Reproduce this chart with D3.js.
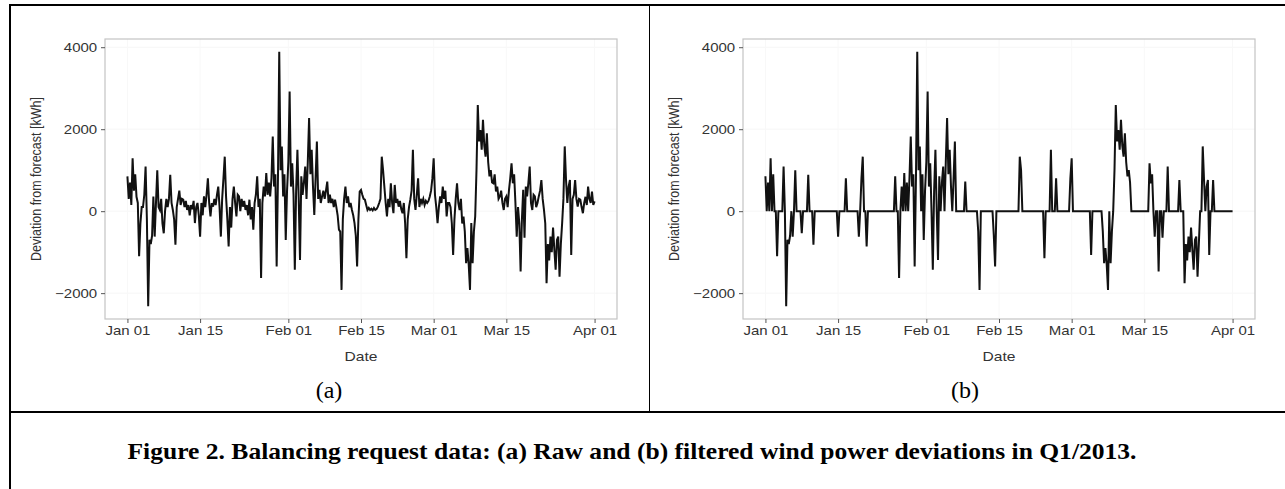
<!DOCTYPE html>
<html>
<head>
<meta charset="utf-8">
<script src="https://cdn.jsdelivr.net/npm/d3@7"></script>
<style>
  html, body { margin: 0; padding: 0; background: #fff; }
  svg { display: block; }
</style>
</head>
<body>
<svg id="fig" width="1285" height="489"></svg>
<script>
// ---------------- DATA ----------------
// Series start and sampling step (6-hourly readings from the picture)
const seriesStart = "2013-01-01";
const stepHours = 6;

// (a) raw deviation from forecast [kWh], 4 readings per day, Jan 01 .. Apr 01
const rawValues = [
  850, 300, 700, 150,     1290, 500, 900, 350,     200, -1100, -300, 100,   100, 400, 1090, -200,
  -2320, -700, -800, -600, 360, -620, 200, 1000,   100, 30, 300, -300,      -540, 0, 300, 100,
  300, 890, 200, 30,      -200, -820, 100, 300,    500, 150, 300, 280,      100, 250, 30, 150,
  -100, 150, 50, 250,     -290, 100, 200, -100,    -620, 200, -100, 360,    100, 400, 800, 200,
  -130, 200, 110, 300,    150, 400, 600, 100,      -620, 300, 800, 1330,    360, -200, -860, 100,
  -400, 300, 600, 200,    -130, 400, 360, 0,       300, 110, 250, 30,       150, -100, 280, -200,
  100, -450, 200, 400,    850, 100, 300, -1630,    200, 600, 360, 930,      400, 700, 360, 800,
  1820, 600, 900, -1350,  800, 3890, 1000, 1580,   360, 900, -700, 500,     1200, 2920, 600, 1170,
  400, -1430, 500, 1500,  300, -1190, 850, 400,    700, 1090, 300, 1200,    2270, 900, 1500, 600,
  -90, 800, 1700, 300,    520, 200, 360, 500,      300, 500, 720, 200,      400, 200, 300, 100,
  280, 100, -100, -450,   -500, -1920, -200, 300,  600, 200, 360, 100,      200, 30, -100, -290,
  -600, -1350, -200, 480, 520, 400, 300, 280,      150, 30, 80, 30,         60, 20, 80, 30,
  50, 110, 200, 300,      1330, 1000, 600, 200,    -130, 300, 100, 680,     200, -50, 640, 200,
  300, 110, 250, 50,      -50, 200, -290, -1150,   -200, 100, 280, 500,     1500, 300, 30, 400,
  800, 100, 300, 200,     300, 150, 250, 200,      250, 360, 500, 800,      1290, 400, 100, -290,
  100, 360, 200, 600,     300, 500, -130, 200,     200, 100, -300, -1070,   -200, 300, 680, 200,
  30, 300, -300, -130,    -500, -1270, -900, -1300, -1920, -290, -1270, -500, -130, 1000, 2590, 1700,
  1980, 1500, 2230, 1600, 1330, 1900, 1200, 850,   1000, 700, 680, 900,     480, 600, 300, 360,
  500, 200, 30, 300,      360, 100, 500, 800,      1170, 680, 900, 200,     -620, 100, -300, -1470,
  -200, 520, -650, 600,   360, 700, 1090, 200,     30, 400, 360, 100,       200, 360, 500, 760,
  300, 30, -300, -1760,   -800, -1200, -620, -1000, -400, -940, -1430, -700, -620, -1600, -800, -290,
  300, 1580, 760, 200,    600, 760, -1070, 300,    400, 760, 300, 110,      300, 280, 100, -50,
  200, 350, 150, 600,     300, 200, 480, 150,
  240
];

// (b) filtered deviation [kWh], same sampling, 0 where filtered out
const filteredValues = [
  850, 0, 700, 0,         1290, 0, 900, 0,         0, -1100, 0, 0,          0, 0, 1090, 0,
  -2320, -700, -800, -600, 0, -620, 0, 1000,       0, 0, 0, 0,              -540, 0, 0, 0,
  0, 890, 0, 0,           0, -820, 0, 0,           0, 0, 0, 0,              0, 0, 0, 0,
  0, 0, 0, 0,             0, 0, 0, 0,              -620, 0, 0, 0,           0, 0, 800, 0,
  0, 0, 0, 0,             0, 0, 0, 0,              -620, 0, 800, 1330,      0, 0, -860, 0,
  0, 0, 0, 0,             0, 0, 0, 0,              0, 0, 0, 0,              0, 0, 0, 0,
  0, 0, 0, 0,             850, 0, 0, -1630,        0, 600, 0, 930,          0, 700, 0, 800,
  1820, 600, 900, -1350,  800, 3890, 1000, 1580,   0, 900, -700, 500,       1200, 2920, 600, 1170,
  0, -1430, 500, 1500,    0, -1190, 850, 0,        700, 1090, 0, 1200,      2270, 900, 1500, 600,
  0, 800, 1700, 0,        0, 0, 0, 0,              0, 0, 720, 0,            0, 0, 0, 0,
  0, 0, 0, 0,             -500, -1920, 0, 0,       0, 0, 0, 0,              0, 0, 0, 0,
  -600, -1350, 0, 0,      0, 0, 0, 0,              0, 0, 0, 0,              0, 0, 0, 0,
  0, 0, 0, 0,             1330, 1000, 0, 0,        0, 0, 0, 0,              0, 0, 0, 0,
  0, 0, 0, 0,             0, 0, 0, -1150,          0, 0, 0, 0,              1500, 0, 0, 0,
  800, 0, 0, 0,           0, 0, 0, 0,              0, 0, 0, 800,            1290, 0, 0, 0,
  0, 0, 0, 0,             0, 0, 0, 0,              0, 0, 0, -1070,          0, 0, 0, 0,
  0, 0, 0, 0,             -500, -1270, -900, -1300, -1920, 0, -1270, -500,  0, 1000, 2590, 1700,
  1980, 1500, 2230, 1600, 1330, 1900, 1200, 850,   1000, 700, 0, 0,         0, 0, 0, 0,
  0, 0, 0, 0,             0, 0, 0, 0,              1170, 680, 900, 0,       -620, 0, 0, -1470,
  0, 0, -650, 0,          0, 0, 1090, 0,           0, 0, 0, 0,              0, 0, 0, 760,
  0, 0, 0, -1760,         -800, -1200, -620, -1000, -400, -940, -1430, -700, -620, -1600, -800, 0,
  0, 1580, 760, 0,        600, 760, -1070, 0,      0, 760, 0, 0,            0, 0, 0, 0,
  0, 0, 0, 0,             0, 0, 0, 0,
  0
];

const xTickLabels = ["Jan 01", "Jan 15", "Feb 01", "Feb 15", "Mar 01", "Mar 15", "Apr 01"];
const xTickDates = ["2013-01-01", "2013-01-15", "2013-02-01", "2013-02-15", "2013-03-01", "2013-03-15", "2013-04-01"];
const yTicks = [-2000, 0, 2000, 4000];
const panelLabels = ["(a)", "(b)"];
const xTitle = "Date";
const yTitle = "Deviation from forecast [kWh]";
const caption = "Figure 2.  Balancing request data: (a) Raw and (b) filtered wind power deviations in Q1/2013.";

// ---------------- DRAWING ----------------
const svg = d3.select("#fig");
svg.append("rect").attr("width", 1285).attr("height", 489).attr("fill", "#fff");

const parse = d3.utcParse("%Y-%m-%d");
const t0 = parse(seriesStart);
const toSeries = vals => vals.map((v, i) => ({ date: new Date(+t0 + i * stepHours * 3600e3), value: v }));
const rawSeries = toSeries(rawValues);
const filtSeries = toSeries(filteredValues);

const allDates = rawSeries.map(d => d.date);
const dateExt = d3.extent(allDates);
const valExt = d3.extent(rawValues);
const xPad = (dateExt[1] - dateExt[0]) * 0.048;
const yPad = (valExt[1] - valExt[0]) * 0.05;

const SX = 1.2; // horizontal stretch of the chart text
const SANS = "'Liberation Sans', Arial, sans-serif";
const SERIF = "'Liberation Serif', 'Times New Roman', serif";

function panel(offsetX, series, label) {
  const left = 105 + offsetX, right = 617 + offsetX, top = 39, bottom = 319;
  const x = d3.scaleUtc()
    .domain([new Date(+dateExt[0] - xPad), new Date(+dateExt[1] + xPad)])
    .range([left, right]);
  const y = d3.scaleLinear()
    .domain([valExt[0] - yPad, valExt[1] + yPad])
    .range([bottom, top]);

  const g = svg.append("g");

  // very faint grid
  g.append("g").selectAll("line").data(yTicks).join("line")
    .attr("x1", left).attr("x2", right)
    .attr("y1", d => y(d)).attr("y2", d => y(d))
    .attr("stroke", "#f6f6f6").attr("stroke-width", 1);
  g.append("g").selectAll("line").data(xTickDates).join("line")
    .attr("x1", d => x(parse(d))).attr("x2", d => x(parse(d)))
    .attr("y1", top).attr("y2", bottom)
    .attr("stroke", "#f8f8f8").attr("stroke-width", 1);

  // line
  const line = d3.line().x(d => x(d.date)).y(d => y(d.value));
  g.append("path").datum(series)
    .attr("d", line)
    .attr("fill", "none")
    .attr("stroke", "#111")
    .attr("stroke-width", 2)
    .attr("stroke-linejoin", "miter");

  // panel border
  g.append("rect")
    .attr("x", left).attr("y", top)
    .attr("width", right - left).attr("height", bottom - top)
    .attr("fill", "none").attr("stroke", "#c4c4c4").attr("stroke-width", 1.2);

  // axes
  const xAxis = d3.axisBottom(x)
    .tickValues(xTickDates.map(parse))
    .tickFormat((d, i) => xTickLabels[i])
    .tickSize(4).tickPadding(3);
  const gx = g.append("g").attr("transform", `translate(0,${bottom})`).call(xAxis);
  gx.select(".domain").remove();
  gx.selectAll(".tick line").attr("stroke", "#555");
  gx.selectAll(".tick text")
    .attr("font-family", SANS)
    .attr("font-size", 12.5).attr("fill", "#333")
    .attr("transform", `scale(${SX},1)`);

  const yAxis = d3.axisLeft(y).tickValues(yTicks).tickFormat(d3.format("d"))
    .tickSize(4).tickPadding(2.5);
  const gy = g.append("g").attr("transform", `translate(${left},0)`).call(yAxis);
  gy.select(".domain").remove();
  gy.selectAll(".tick line").attr("stroke", "#555");
  gy.selectAll(".tick text")
    .attr("font-family", SANS)
    .attr("font-size", 12.5).attr("fill", "#333")
    .attr("transform", `scale(${SX},1)`);

  // titles
  g.append("text")
    .attr("transform", `translate(${(left + right) / 2},${361}) scale(${SX},1)`)
    .attr("text-anchor", "middle")
    .attr("font-family", SANS)
    .attr("font-size", 13).attr("fill", "#333")
    .text(xTitle);
  g.append("text")
    .attr("transform", `translate(${left - 64},${(top + bottom) / 2}) rotate(-90) scale(1,${SX})`)
    .attr("text-anchor", "middle")
    .attr("font-family", SANS)
    .attr("font-size", 12.5).attr("fill", "#333")
    .text(yTitle);

  // sub-figure label
  g.append("text")
    .attr("x", 329 + offsetX * (636 / 638)).attr("y", 398)
    .attr("text-anchor", "middle")
    .attr("font-family", SERIF)
    .attr("font-size", 24).attr("fill", "#000")
    .text(label);
}

panel(0, rawSeries, panelLabels[0]);
panel(638, filtSeries, panelLabels[1]);

// frame (table borders)
const frame = svg.append("g").attr("stroke", "#000").attr("fill", "none");
frame.append("line").attr("x1", 9).attr("x2", 1285).attr("y1", 5).attr("y2", 5).attr("stroke-width", 2);
frame.append("line").attr("x1", 10).attr("x2", 10).attr("y1", 4).attr("y2", 489).attr("stroke-width", 2);
frame.append("line").attr("x1", 649.5).attr("x2", 649.5).attr("y1", 5).attr("y2", 412).attr("stroke-width", 1);
frame.append("line").attr("x1", 9).attr("x2", 1285).attr("y1", 412).attr("y2", 412).attr("stroke-width", 2);

// caption
svg.append("text")
  .attr("x", 632).attr("y", 459)
  .attr("text-anchor", "middle")
  .attr("font-family", SERIF)
  .attr("font-weight", "bold")
  .attr("font-size", 24)
  .attr("textLength", 1009).attr("lengthAdjust", "spacingAndGlyphs")
  .attr("fill", "#000")
  .text(caption);
</script>
</body>
</html>
